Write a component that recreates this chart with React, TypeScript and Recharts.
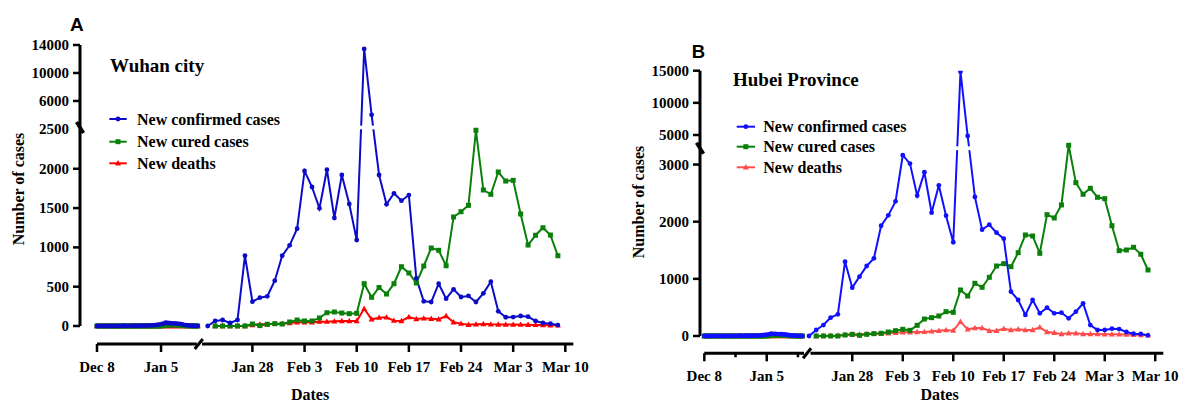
import React from 'react'
import {
  LineChart,
  Line,
  XAxis,
  YAxis,
  ReferenceLine,
  ReferenceArea,
  ReferenceDot,
} from 'recharts'

// Dec 8 - Jan 21, one value a day (left of the x-axis break), same in both panels
const earlyConfirmed = [
  0, 0, 1, 0, 0, 1, 0, 2, 1, 0, 2, 1, 3, 2, 1, 2, 4, 3, 2, 5, 4, 6, 5, 7, 8, 10, 14, 18, 24, 30,
  42, 38, 35, 33, 34, 31, 28, 22, 15, 10, 7, 5, 3, 1, 0,
]
const earlyCured = [
  0, 0, 0, 0, 0, 0, 0, 0, 0, 0, 0, 0, 0, 0, 0, 0, 0, 0, 0, 0, 0, 0, 0, 0, 0, 0, 0, 0, 2, 5,
  8, 12, 14, 15, 14, 12, 10, 8, 5, 3, 2, 1, 0, 0, 0,
]
const earlyDeaths = [
  0, 0, 0, 0, 0, 0, 0, 0, 0, 0, 0, 0, 0, 0, 0, 0, 0, 0, 0, 0, 0, 0, 0, 0, 0, 0, 0, 0, 0, 0,
  0, 0, 0, 0, 0, 0, 0, 0, 0, 0, 0, 0, 0, 0, 0,
]

// Jan 22 - Mar 9, one value a day
const wuhanConfirmed = [
  0, 64, 76, 38, 76, 894, 310, 360, 378, 576, 894, 1026, 1238, 1972, 1768, 1497, 1988, 1374, 1921, 1552,
  1094, 13434, 4019, 1921, 1548, 1688, 1594, 1666, 607, 314, 305, 538, 347, 467, 369, 382, 305, 416, 564, 187,
  111, 114, 127, 118, 64, 38, 29, 12,
]
const wuhanCured = [
  null, 0, 0, 0, 0, 0, 25, 5, 21, 29, 25, 51, 76, 64, 64, 102, 169, 178, 165, 157,
  161, 538, 365, 490, 407, 538, 754, 674, 547, 763, 992, 963, 767, 1387, 1454, 1535, 2490, 1730, 1675, 1959,
  1844, 1853, 1425, 1030, 1154, 1250, 1157, 894,
]
const wuhanDeaths = [
  null, 0, 0, 0, 0, 0, 13, 21, 21, 30, 30, 38, 47, 47, 47, 55, 55, 59, 64, 64,
  64, 220, 85, 106, 110, 68, 64, 114, 89, 97, 93, 85, 127, 47, 30, 15, 21, 25, 21, 20,
  18, 18, 17, 15, 14, 12, 10, 8,
]
const hubeiConfirmed = [
  0, 105, 192, 321, 379, 1300, 846, 1038, 1225, 1359, 1930, 2111, 2356, 3163, 3016, 2456, 2865, 2157, 2636, 2105,
  1640, 14843, 4844, 2433, 1860, 1947, 1807, 1703, 776, 630, 368, 630, 397, 496, 397, 408, 310, 425, 572, 192,
  105, 105, 128, 122, 70, 41, 35, 12,
]
const hubeiCured = [
  null, 0, 0, 0, 0, 17, 29, 12, 29, 41, 47, 70, 93, 117, 99, 187, 297, 321, 350, 426,
  414, 805, 700, 922, 852, 1027, 1225, 1266, 1213, 1458, 1768, 1750, 1447, 2123, 2065, 2293, 3400, 2683, 2480, 2585,
  2427, 2403, 1930, 1493, 1505, 1552, 1430, 1155,
]
const hubeiDeaths = [
  null, 0, 3, 6, 10, 24, 25, 26, 38, 42, 45, 46, 56, 64, 65, 69, 72, 81, 91, 103,
  94, 251, 117, 140, 140, 93, 93, 128, 105, 117, 105, 105, 152, 70, 58, 35, 47, 47, 35, 35,
  35, 29, 29, 29, 25, 20, 17, 12,
]

const earlyTickDays = [0, 28]
const earlyTickLabels = ['Dec 8', 'Jan 5']
const lateTickDays = [6, 13, 20, 27, 34, 41, 48]
const lateTickLabels = ['Jan 28', 'Feb 3', 'Feb 10', 'Feb 17', 'Feb 24', 'Mar 3', 'Mar 10']

const wuhanYTicks = [0, 500, 1000, 1500, 2000, 2500, 6000, 10000, 14000]
const hubeiYTicks = [0, 1000, 2000, 3000, 5000, 10000, 15000]

const seriesNames = ['New confirmed cases', 'New cured cases', 'New deaths']

const SERIF = '"Liberation Serif", "Times New Roman", serif'
const SANS = '"Liberation Sans", Arial, sans-serif'

interface Panel {
  id: string
  title: string
  offset: number
  confirmed: (number | null)[]
  cured: (number | null)[]
  deaths: (number | null)[]
  yTicks: number[]
  yTop: number
  noTickLine: number | null
  colors: string[]
  margin: { top: number; right: number; bottom: number; left: number }
  leftScale: number
  lateStart: number
  xDomain: [number, number]
  yBreak: number
  yGap: number
  yRatio: number
  yBottom: number
  axisLeftEnd: number
  axisSlash: number
  axisRightStart: number
  minorDays: number[]
  gapBand: [number, number]
}

const panels: Panel[] = [
  {
    id: 'A',
    title: 'Wuhan city',
    offset: 0,
    confirmed: wuhanConfirmed,
    cured: wuhanCured,
    deaths: wuhanDeaths,
    yTicks: wuhanYTicks,
    yTop: 14000,
    noTickLine: 2500,
    colors: ['#0b0bc8', '#0a800a', '#ff0000'],
    margin: { top: 45, right: 19.7, bottom: 19, left: 10 },
    leftScale: 0.307,
    lateStart: 14.86,
    xDomain: [-2.28, 63.93],
    yBreak: 2500,
    yGap: 51,
    yRatio: 0.089,
    yBottom: -229,
    axisLeftEnd: 13.4,
    axisSlash: 13.66,
    axisRightStart: 14.1,
    minorDays: [],
    gapBand: [19.5, 23],
  },
  {
    id: 'B',
    title: 'Hubei Province',
    offset: 593,
    confirmed: hubeiConfirmed,
    cured: hubeiCured,
    deaths: hubeiDeaths,
    yTicks: hubeiYTicks,
    yTop: 15000,
    noTickLine: null,
    colors: ['#1010ff', '#0a800a', '#ff4d4d'],
    margin: { top: 70.7, right: 22.7, bottom: 9.7, left: 37 },
    leftScale: 0.309,
    lateStart: 14.51,
    xDomain: [-0.6, 63.63],
    yBreak: 3250,
    yGap: 70,
    yRatio: 0.1125,
    yBottom: -302.7,
    axisLeftEnd: 13.82,
    axisSlash: 14.24,
    axisRightStart: 14.72,
    minorDays: [14, 42],
    gapBand: [19.5, 23],
  },
]

function marker(kind: number, cx: number, cy: number, color: string, key?: any) {
  if (kind === 0) return <circle key={key} cx={cx} cy={cy} r={2.4} fill={color} />
  if (kind === 1) return <rect key={key} x={cx - 2.5} y={cy - 2.5} width={5} height={5} fill={color} />
  return <path key={key} d={`M${cx},${cy - 3.2}L${cx + 3},${cy + 2.2}L${cx - 3},${cy + 2.2}Z`} fill={color} />
}

function dotFor(kind: number, color: string) {
  return (props: any) => {
    const { cx, cy, index } = props
    if (cy == null || !isFinite(cy) || cx == null) return <g key={index} />
    return marker(kind, cx, cy, color, index)
  }
}

function PanelChart({ p }: { p: Panel }) {
  const ymap = (v: number | null) =>
    v == null ? null : v <= p.yBreak ? v : p.yBreak + p.yGap + (v - p.yBreak) * p.yRatio

  const rows: any[] = []
  earlyConfirmed.forEach((v, i) => {
    rows.push({ pos: i * p.leftScale, eC: ymap(v), eG: ymap(earlyCured[i]), eD: ymap(earlyDeaths[i]) })
  })
  p.confirmed.forEach((v, i) => {
    rows.push({ pos: p.lateStart + i, c: ymap(v), g: ymap(p.cured[i]), d: ymap(p.deaths[i]) })
  })

  const majorTicks = [
    ...earlyTickDays.map((d, i) => ({ pos: d * p.leftScale, label: earlyTickLabels[i] })),
    ...lateTickDays.map((d, i) => ({ pos: p.lateStart + d, label: lateTickLabels[i] })),
  ]
  const minorTicks = p.minorDays.map((d) => d * p.leftScale)
  const xTicks = [...majorTicks.map((t) => t.pos), ...minorTicks].sort((a, b) => a - b)

  const yTickUnits = p.yTicks.map((t) => ymap(t) as number)
  const yTopU = ymap(p.yTop) as number

  const XTick = (props: any) => {
    const { x, y, payload } = props
    const axisY = y - 10
    const major = majorTicks.find((t) => Math.abs(t.pos - payload.value) < 0.001)
    return (
      <g>
        <line x1={x} x2={x} y1={axisY} y2={axisY + (major ? 8 : 4)} stroke="#000" strokeWidth={2.5} />
        {major && (
          <text x={x} y={axisY + 28} textAnchor="middle" fontFamily={SERIF} fontWeight="bold" fontSize={15} fill="#000">
            {major.label}
          </text>
        )}
      </g>
    )
  }

  const YTick = (props: any) => {
    const { x, y, payload } = props
    const axisX = x + 11
    const idx = yTickUnits.findIndex((u) => Math.abs(u - payload.value) < 0.01)
    const value = p.yTicks[idx]
    return (
      <g>
        {value !== p.noTickLine && (
          <line x1={axisX - 7} x2={axisX} y1={y} y2={y} stroke="#000" strokeWidth={2.5} />
        )}
        <text x={x} y={y} dy={5} textAnchor="end" fontFamily={SERIF} fontWeight="bold" fontSize={15} fill="#000">
          {value}
        </text>
      </g>
    )
  }

  const [xMin, xMax] = p.xDomain
  const [blue, green, red] = p.colors

  return (
    <div style={{ position: 'absolute', left: p.offset, top: 0 }}>
      <LineChart width={593} height={403} data={rows} margin={p.margin}>
        <XAxis
          dataKey="pos"
          type="number"
          domain={p.xDomain}
          allowDataOverflow
          ticks={xTicks}
          interval={0}
          axisLine={false}
          tickLine={false}
          tickSize={8}
          tickMargin={2}
          height={40}
          tick={XTick}
        />
        <YAxis
          type="number"
          domain={[p.yBottom, yTopU]}
          allowDataOverflow
          ticks={yTickUnits}
          interval={0}
          axisLine={false}
          tickLine={false}
          tickSize={7}
          tickMargin={4}
          width={70}
          tick={YTick}
        />
        <Line dataKey="eD" stroke={red} strokeWidth={2} dot={dotFor(2, red)} activeDot={false} isAnimationActive={false} />
        <Line dataKey="eG" stroke={green} strokeWidth={2} dot={dotFor(1, green)} activeDot={false} isAnimationActive={false} />
        <Line dataKey="eC" stroke={blue} strokeWidth={2} dot={dotFor(0, blue)} activeDot={false} isAnimationActive={false} />
        <Line dataKey="d" stroke={red} strokeWidth={2} dot={dotFor(2, red)} activeDot={false} isAnimationActive={false} />
        <Line dataKey="g" stroke={green} strokeWidth={2} dot={dotFor(1, green)} activeDot={false} isAnimationActive={false} />
        <Line dataKey="c" stroke={blue} strokeWidth={2} dot={dotFor(0, blue)} activeDot={false} isAnimationActive={false} />

        <ReferenceArea
          x1={p.lateStart + p.gapBand[0]}
          x2={p.lateStart + p.gapBand[1]}
          y1={p.yBreak + 2}
          y2={p.yBreak + p.yGap - 2}
          fill="#fff"
          fillOpacity={1}
          stroke="none"
          ifOverflow="visible"
          zIndex={450}
        />

        <ReferenceLine segment={[{ x: xMin, y: 0 }, { x: xMin, y: yTopU }]} stroke="#000" strokeWidth={3} ifOverflow="visible" />
        <ReferenceLine segment={[{ x: 0, y: p.yBottom }, { x: p.axisLeftEnd, y: p.yBottom }]} stroke="#000" strokeWidth={3} ifOverflow="visible" />
        <ReferenceLine segment={[{ x: p.axisRightStart, y: p.yBottom }, { x: xMax, y: p.yBottom }]} stroke="#000" strokeWidth={3} ifOverflow="visible" />
        <ReferenceDot
          x={p.axisSlash}
          y={p.yBottom}
          r={0}
          ifOverflow="visible"
          shape={(s: any) => (
            <line x1={s.cx - 4} y1={s.cy + 5} x2={s.cx + 4} y2={s.cy - 5} stroke="#000" strokeWidth={3} />
          )}
        />
        <ReferenceDot
          x={xMin}
          y={p.yBreak + p.yGap / 2}
          r={0}
          ifOverflow="visible"
          shape={(s: any) => (
            <line x1={s.cx - 3.5} y1={s.cy - 5.5} x2={s.cx + 3.5} y2={s.cy + 5.5} stroke="#000" strokeWidth={3.5} />
          )}
        />
      </LineChart>
    </div>
  )
}

// page positions of the free text (panel letter, title, legend, axis titles)
const overlay = [
  {
    letter: { x: 70, y: 31, size: 19 },
    title: { x: 110, y: 71.5 },
    legend: { x1: 109.3, x2: 126.7, textX: 137, ys: [119, 141.7, 163.3] },
    yTitle: { x: 18, y: 189 },
    xTitle: { x: 310, y: 400 },
  },
  {
    letter: { x: 691.7, y: 58.3, size: 18.5 },
    title: { x: 733, y: 86 },
    legend: { x1: 736.7, x2: 755, textX: 763.3, ys: [126.7, 146.7, 167.3] },
    yTitle: { x: 638, y: 202 },
    xTitle: { x: 939.5, y: 400 },
  },
]

export default function App() {
  return (
    <div style={{ position: 'absolute', left: 0, top: 0, width: 1186, height: 403, background: '#fff' }}>
      {panels.map((p) => (
        <PanelChart key={p.id} p={p} />
      ))}
      <svg width={1186} height={403} style={{ position: 'absolute', left: 0, top: 0, pointerEvents: 'none' }}>
        {panels.map((p, pi) => {
          const o = overlay[pi]
          return (
            <g key={p.id} fill="#000">
              <text x={o.letter.x} y={o.letter.y} fontFamily={SANS} fontWeight="bold" fontSize={o.letter.size}>
                {p.id}
              </text>
              <text x={o.title.x} y={o.title.y} fontFamily={SERIF} fontWeight="bold" fontSize={19}>
                {p.title}
              </text>
              {seriesNames.map((name, i) => {
                const ly = o.legend.ys[i]
                const mx = (o.legend.x1 + o.legend.x2) / 2
                return (
                  <g key={name}>
                    <line x1={o.legend.x1} x2={o.legend.x2} y1={ly} y2={ly} stroke={p.colors[i]} strokeWidth={2} />
                    {marker(i, mx, ly, p.colors[i])}
                    <text x={o.legend.textX} y={ly + 5.5} fontFamily={SERIF} fontWeight="bold" fontSize={16}>
                      {name}
                    </text>
                  </g>
                )
              })}
              <text
                x={o.yTitle.x}
                y={o.yTitle.y + 5.5}
                transform={`rotate(-90, ${o.yTitle.x}, ${o.yTitle.y})`}
                textAnchor="middle"
                fontFamily={SERIF}
                fontWeight="bold"
                fontSize={16}
              >
                Number of cases
              </text>
              <text x={o.xTitle.x} y={o.xTitle.y} textAnchor="middle" fontFamily={SERIF} fontWeight="bold" fontSize={16}>
                Dates
              </text>
            </g>
          )
        })}
      </svg>
    </div>
  )
}
